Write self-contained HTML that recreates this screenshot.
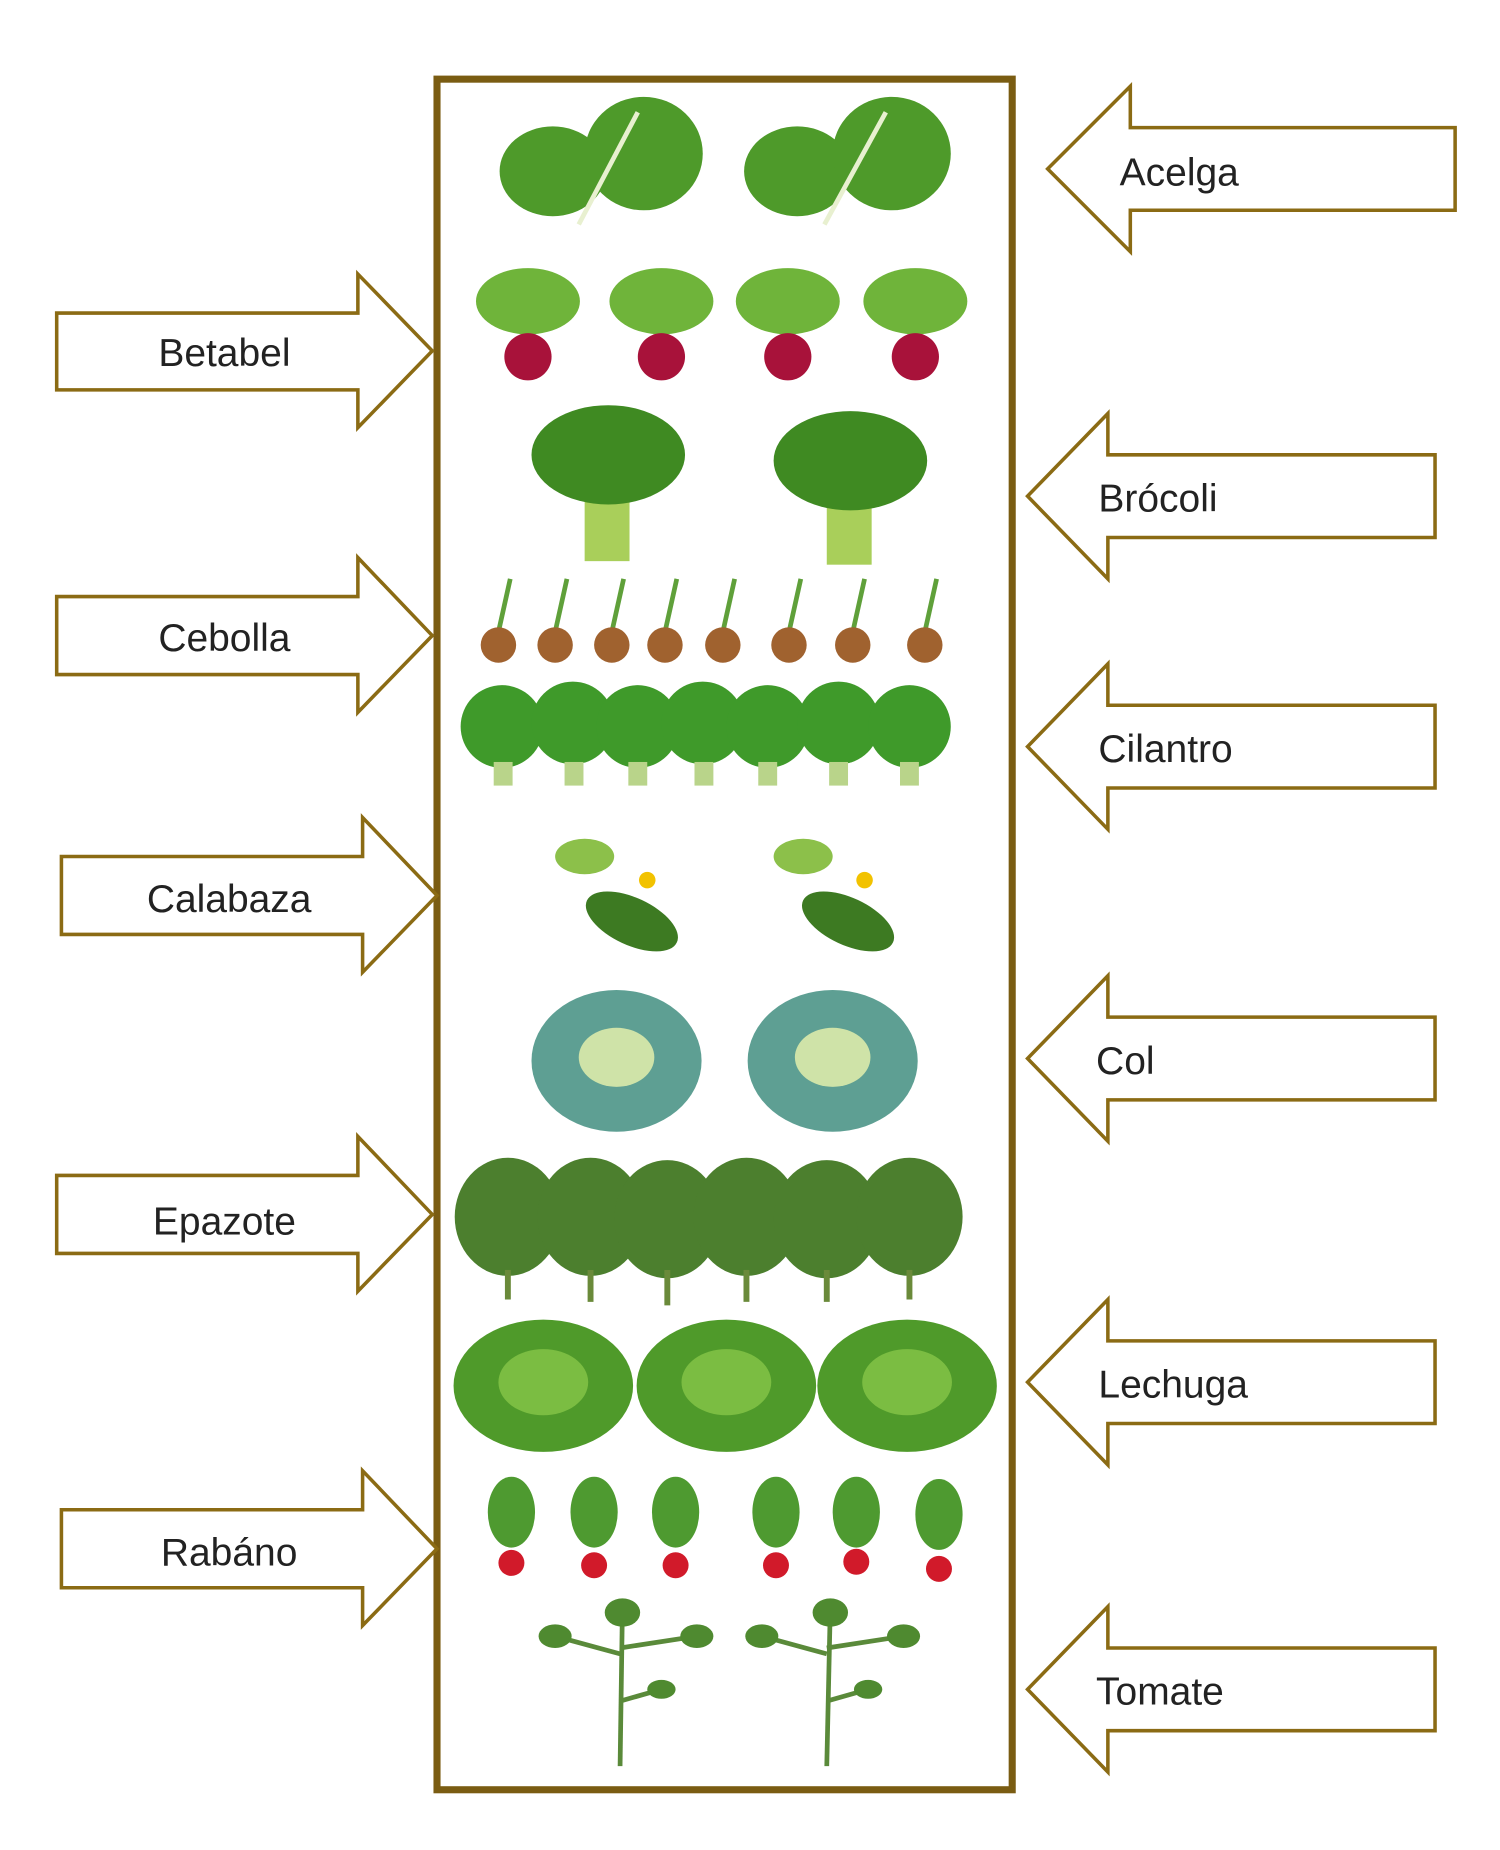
<!DOCTYPE html>
<html><head><meta charset="utf-8"><style>
html,body{margin:0;padding:0;background:#fff;}
svg{display:block;}
text{font-family:"Liberation Sans",sans-serif;font-size:33px;fill:#222;}
</style></head><body>
<svg width="1500" height="1850" viewBox="0 0 1270 1566" preserveAspectRatio="none" xmlns="http://www.w3.org/2000/svg">
<rect width="1280" height="1579" fill="#fff"/>
<rect x="370" y="67" width="487" height="1448" fill="none" stroke="#7a5c12" stroke-width="6"/>

<g fill="#fff" stroke="#8b6b14" stroke-width="3" stroke-linejoin="miter">
<polygon points="48,265 303,265 303,232 366,297 303,362 303,330 48,330"/>
<polygon points="48,505 303,505 303,472 366,538 303,603 303,571 48,571"/>
<polygon points="52,725 307,725 307,692 370,758 307,823 307,791 52,791"/>
<polygon points="48,995 303,995 303,962 366,1028 303,1093 303,1061 48,1061"/>
<polygon points="52,1278 307,1278 307,1245 370,1311 307,1376 307,1344 52,1344"/>
<polygon points="1232,108 957,108 957,73 887,143 957,213 957,178 1232,178"/>
<polygon points="1215,385 938,385 938,350 870,420 938,490 938,455 1215,455"/>
<polygon points="1215,597 938,597 938,562 870,632 938,702 938,667 1215,667"/>
<polygon points="1215,861 938,861 938,826 870,896 938,966 938,931 1215,931"/>
<polygon points="1215,1135 938,1135 938,1100 870,1170 938,1240 938,1205 1215,1205"/>
<polygon points="1215,1395 938,1395 938,1360 870,1430 938,1500 938,1465 1215,1465"/>
</g>
<g>
<text x="190" y="310" text-anchor="middle">Betabel</text>
<text x="190" y="551" text-anchor="middle">Cebolla</text>
<text x="194" y="772" text-anchor="middle">Calabaza</text>
<text x="190" y="1045" text-anchor="middle">Epazote</text>
<text x="194" y="1325" text-anchor="middle">Rabáno</text>
<text x="948" y="157">Acelga</text>
<text x="930" y="433">Brócoli</text>
<text x="930" y="645">Cilantro</text>
<text x="928" y="909">Col</text>
<text x="930" y="1183">Lechuga</text>
<text x="928" y="1443">Tomate</text>
</g>

<g fill="#4e9a2a">
<ellipse cx="468" cy="145" rx="45" ry="38"/><ellipse cx="545" cy="130" rx="50" ry="48"/>
<ellipse cx="675" cy="145" rx="45" ry="38"/><ellipse cx="755" cy="130" rx="50" ry="48"/>
</g>
<g stroke="#e8f0d0" stroke-width="4"><line x1="490" y1="190" x2="540" y2="95"/><line x1="698" y1="190" x2="750" y2="95"/></g>

<g>
<g fill="#6fb43a"><ellipse cx="447" cy="255" rx="44" ry="28"/><ellipse cx="560" cy="255" rx="44" ry="28"/><ellipse cx="667" cy="255" rx="44" ry="28"/><ellipse cx="775" cy="255" rx="44" ry="28"/></g>
<g fill="#a8123a"><circle cx="447" cy="302" r="20"/><circle cx="560" cy="302" r="20"/><circle cx="667" cy="302" r="20"/><circle cx="775" cy="302" r="20"/></g>
</g>

<g fill="#a9cf5a"><rect x="495" y="410" width="38" height="65"/><rect x="700" y="410" width="38" height="68"/></g>
<g fill="#3f8a22"><ellipse cx="515" cy="385" rx="65" ry="42"/><ellipse cx="720" cy="390" rx="65" ry="42"/></g>

<g stroke="#5fa03a" stroke-width="4">
<line x1="422" y1="535" x2="432" y2="490"/><line x1="470" y1="535" x2="480" y2="490"/><line x1="518" y1="535" x2="528" y2="490"/><line x1="563" y1="535" x2="573" y2="490"/><line x1="612" y1="535" x2="622" y2="490"/><line x1="668" y1="535" x2="678" y2="490"/><line x1="722" y1="535" x2="732" y2="490"/><line x1="783" y1="535" x2="793" y2="490"/>
</g>
<g fill="#a0622f"><circle cx="422" cy="546" r="15"/><circle cx="470" cy="546" r="15"/><circle cx="518" cy="546" r="15"/><circle cx="563" cy="546" r="15"/><circle cx="612" cy="546" r="15"/><circle cx="668" cy="546" r="15"/><circle cx="722" cy="546" r="15"/><circle cx="783" cy="546" r="15"/></g>

<g fill="#3f9a2a">
<ellipse cx="425" cy="615" rx="35" ry="35"/><ellipse cx="485" cy="612" rx="35" ry="35"/><ellipse cx="540" cy="615" rx="35" ry="35"/><ellipse cx="595" cy="612" rx="35" ry="35"/><ellipse cx="650" cy="615" rx="35" ry="35"/><ellipse cx="710" cy="612" rx="35" ry="35"/><ellipse cx="770" cy="615" rx="35" ry="35"/>
</g>
<g fill="#b9d48a"><rect x="418" y="645" width="16" height="20"/><rect x="478" y="645" width="16" height="20"/><rect x="532" y="645" width="16" height="20"/><rect x="588" y="645" width="16" height="20"/><rect x="642" y="645" width="16" height="20"/><rect x="702" y="645" width="16" height="20"/><rect x="762" y="645" width="16" height="20"/></g>

<g fill="#8cc04a"><ellipse cx="495" cy="725" rx="25" ry="15"/><ellipse cx="680" cy="725" rx="25" ry="15"/></g>
<g fill="#3d7a22"><ellipse cx="535" cy="780" rx="42" ry="20" transform="rotate(25 535 780)"/><ellipse cx="718" cy="780" rx="42" ry="20" transform="rotate(25 718 780)"/></g>
<g fill="#f2c200"><circle cx="548" cy="745" r="7"/><circle cx="732" cy="745" r="7"/></g>

<g fill="#5e9f93"><ellipse cx="522" cy="898" rx="72" ry="60"/><ellipse cx="705" cy="898" rx="72" ry="60"/></g>
<g fill="#cfe3a8"><ellipse cx="522" cy="895" rx="32" ry="25"/><ellipse cx="705" cy="895" rx="32" ry="25"/></g>

<g fill="#4c7f2e">
<ellipse cx="430" cy="1030" rx="45" ry="50"/><ellipse cx="500" cy="1030" rx="45" ry="50"/><ellipse cx="565" cy="1032" rx="45" ry="50"/><ellipse cx="632" cy="1030" rx="45" ry="50"/><ellipse cx="700" cy="1032" rx="45" ry="50"/><ellipse cx="770" cy="1030" rx="45" ry="50"/>
</g>
<g stroke="#6a8a3a" stroke-width="5"><line x1="430" y1="1075" x2="430" y2="1100"/><line x1="500" y1="1075" x2="500" y2="1102"/><line x1="565" y1="1075" x2="565" y2="1105"/><line x1="632" y1="1075" x2="632" y2="1102"/><line x1="700" y1="1075" x2="700" y2="1102"/><line x1="770" y1="1075" x2="770" y2="1100"/></g>

<g fill="#4f9a2a"><ellipse cx="460" cy="1173" rx="76" ry="56"/><ellipse cx="615" cy="1173" rx="76" ry="56"/><ellipse cx="768" cy="1173" rx="76" ry="56"/></g>
<g fill="#7bbd42"><ellipse cx="460" cy="1170" rx="38" ry="28"/><ellipse cx="615" cy="1170" rx="38" ry="28"/><ellipse cx="768" cy="1170" rx="38" ry="28"/></g>

<g fill="#4e9a30"><ellipse cx="433" cy="1280" rx="20" ry="30"/><ellipse cx="503" cy="1280" rx="20" ry="30"/><ellipse cx="572" cy="1280" rx="20" ry="30"/><ellipse cx="657" cy="1280" rx="20" ry="30"/><ellipse cx="725" cy="1280" rx="20" ry="30"/><ellipse cx="795" cy="1282" rx="20" ry="30"/></g>
<g fill="#d11a2a"><circle cx="433" cy="1323" r="11"/><circle cx="503" cy="1325" r="11"/><circle cx="572" cy="1325" r="11"/><circle cx="657" cy="1325" r="11"/><circle cx="725" cy="1322" r="11"/><circle cx="795" cy="1328" r="11"/></g>

<g stroke="#5a8a3a" stroke-width="4" fill="none">
<line x1="527" y1="1360" x2="525" y2="1495"/><line x1="525" y1="1400" x2="470" y2="1385"/><line x1="525" y1="1395" x2="590" y2="1385"/><line x1="525" y1="1440" x2="560" y2="1430"/>
<line x1="703" y1="1360" x2="700" y2="1495"/><line x1="700" y1="1400" x2="645" y2="1385"/><line x1="700" y1="1395" x2="765" y2="1385"/><line x1="700" y1="1440" x2="735" y2="1430"/>
</g>
<g fill="#4f8a30"><ellipse cx="527" cy="1365" rx="15" ry="12"/><ellipse cx="470" cy="1385" rx="14" ry="10"/><ellipse cx="590" cy="1385" rx="14" ry="10"/><ellipse cx="560" cy="1430" rx="12" ry="8"/>
<ellipse cx="703" cy="1365" rx="15" ry="12"/><ellipse cx="645" cy="1385" rx="14" ry="10"/><ellipse cx="765" cy="1385" rx="14" ry="10"/><ellipse cx="735" cy="1430" rx="12" ry="8"/></g>
</svg>
</body></html>
